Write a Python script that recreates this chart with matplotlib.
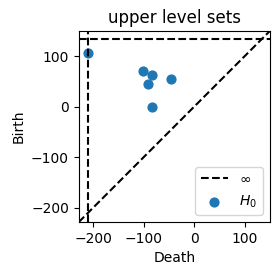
import matplotlib
matplotlib.use('Agg')
import matplotlib.pyplot as plt

# persistence pairs (death, birth)
death = [-211, -102, -84, -91, -46, -84]
birth = [106, 71, 62, 45, 55, 0]

lims = [-229, 150]
inf_y = 133
inf_x = -211

fig = plt.figure(figsize=(2.8, 2.76), dpi=100)
ax = fig.add_axes([0.281, 0.195, 0.683, 0.693])

# diagonal
ax.plot(lims, lims, '--', color='k')
# infinity lines
ax.plot(lims, [inf_y, inf_y], '--', color='k', label=r'$\infty$')
ax.plot([inf_x, inf_x], lims, '--', color='k')

ax.scatter(death, birth, s=40, label='$H_0$')

ax.set_xlim(lims)
ax.set_ylim(lims)
ax.set_xticks([-200, -100, 0, 100])
ax.set_yticks([-200, -100, 0, 100])
ax.set_xlabel('Death')
ax.set_ylabel('Birth')
ax.set_title('upper level sets')
ax.legend(loc='lower right')

plt.savefig('out.png')
